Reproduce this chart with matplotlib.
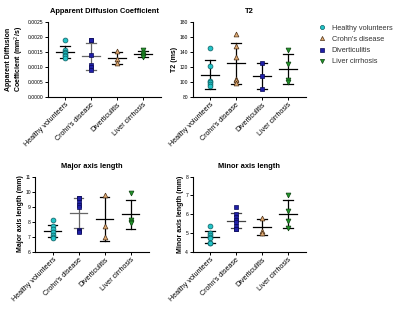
import numpy as np
import matplotlib
matplotlib.use("Agg")
import matplotlib.pyplot as plt
from matplotlib.lines import Line2D

plt.rcParams['font.family'] = ['Liberation Sans', 'DejaVu Sans']

groups = ["Healthy volunteers", "Crohn's disease", "Diverticulitis", "Liver cirrhosis"]

adc_healthy = [0.0019, 0.00155, 0.0015, 0.00145, 0.0014, 0.00135, 0.0013]
adc_crohn = [0.0019, 0.00188, 0.0014, 0.00105, 0.0010, 0.00088]
adc_divert = [0.00152, 0.00125, 0.00113]
adc_liver = [0.00156, 0.00145, 0.00138, 0.00131]

t2_healthy = [145, 121, 101, 99, 97, 94]
t2_crohn = [164, 147, 133, 104, 102, 98]
t2_divert = [124.5, 107, 90]
t2_liver = [142, 124, 102, 100]

major_healthy = [8.1, 7.7, 7.5, 7.3, 7.1, 7.0, 6.9]
major_crohn = [9.6, 9.55, 9.3, 9.1, 8.95, 7.45, 7.35, 7.3]
major_divert = [9.8, 7.7, 7.0]
major_liver = [9.9, 8.1, 8.0, 7.9]

minor_healthy = [5.35, 4.98, 4.88, 4.78, 4.7, 4.44, 4.45]
minor_crohn = [6.35, 6.0, 5.85, 5.7, 5.55, 5.35, 5.22, 5.2]
minor_divert = [5.78, 5.1, 5.0]
minor_liver = [7.0, 6.17, 5.65, 5.25]

# styles
CYAN = dict(marker='o', mfc='#22c4c8', mec='#0c5c60')
BLUE = dict(marker='s', mfc='#1f1fa8', mec='#0a0a55')
TAN = dict(marker='^', mfc='#e2ab72', mec='#4a3018')
GREEN = dict(marker='v', mfc='#22962a', mec='#0c400f')

panels = [
    dict(rect=[0.119, 0.7034, 0.284, 0.230], title="Apparent Diffusion Coefficient",
         ylabel="Apparent Diffusion\nCoefficient (mm$^2$/s)",
         data=[adc_healthy, adc_crohn, adc_divert, adc_liver],
         styles=[CYAN, BLUE, TAN, GREEN], lc=['k', '#666666', 'k', 'k'],
         ylim=(0, 0.0025), yticks=np.arange(0, 0.00251, 0.0005), fmt="{:.4f}"),
    dict(rect=[0.4815, 0.7034, 0.284, 0.230], title="T2", ylabel="T2 (ms)",
         data=[t2_healthy, t2_crohn, t2_divert, t2_liver],
         styles=[CYAN, TAN, BLUE, GREEN], lc=['k', 'k', 'k', 'k'],
         ylim=(80, 180), yticks=np.arange(80, 181, 20), fmt="{:.0f}"),
    dict(rect=[0.0883, 0.2284, 0.284, 0.230], title="Major axis length",
         ylabel="Major axis length (mm)",
         data=[major_healthy, major_crohn, major_divert, major_liver],
         styles=[CYAN, BLUE, TAN, GREEN], lc=['k', '#666666', 'k', 'k'],
         ylim=(6, 11), yticks=np.arange(6, 11.1, 1), fmt="{:.0f}"),
    dict(rect=[0.4815, 0.2284, 0.284, 0.230], title="Minor axis length",
         ylabel="Minor axis length (mm)",
         data=[minor_healthy, minor_crohn, minor_divert, minor_liver],
         styles=[CYAN, BLUE, TAN, GREEN], lc=['k', '#444444', 'k', 'k'],
         ylim=(4, 8), yticks=np.arange(4, 8.1, 1), fmt="{:.0f}"),
]

fig = plt.figure(figsize=(4.0, 3.26), dpi=100)

for p in panels:
    ax = fig.add_axes(p['rect'])
    for i, (vals, st, lc) in enumerate(zip(p['data'], p['styles'], p['lc'])):
        vals = np.asarray(vals, dtype=float)
        m = vals.mean()
        sd = vals.std(ddof=1)
        ax.plot([i] * len(vals), vals, linestyle='none', markersize=3.5,
                markeredgewidth=0.5, zorder=3, **st)
        ax.plot([i - 0.33, i + 0.33], [m, m], color=lc, lw=0.9, zorder=2)
        ax.plot([i, i], [m - sd, m + sd], color=lc, lw=0.9, zorder=2)
        for y in (m - sd, m + sd):
            ax.plot([i - 0.18, i + 0.18], [y, y], color=lc, lw=0.9, zorder=2)
    ax.set_xlim(-0.67, 3.7)
    ax.set_ylim(*p['ylim'])
    ax.set_yticks(p['yticks'])
    ax.set_yticklabels([p['fmt'].format(v) for v in p['yticks']], fontsize=3.6)
    ax.set_xticks(range(len(groups)))
    ax.set_xticklabels(groups, rotation=45, ha='right', rotation_mode='anchor', fontsize=5.1)
    for s in ('top', 'right'):
        ax.spines[s].set_visible(False)
    for s in ('left', 'bottom'):
        ax.spines[s].set_linewidth(0.8)
    ax.tick_params(length=2, width=0.7, pad=1.2)
    ax.set_title(p['title'], fontsize=5.4, fontweight='bold', pad=6)
    ax.set_ylabel(p['ylabel'], fontsize=5, fontweight='bold', labelpad=1,
                  linespacing=1.1)

handles = [
    Line2D([], [], linestyle='none', markersize=3, markeredgewidth=0.5, **CYAN),
    Line2D([], [], linestyle='none', markersize=3, markeredgewidth=0.5, **TAN),
    Line2D([], [], linestyle='none', markersize=3, markeredgewidth=0.5, **BLUE),
    Line2D([], [], linestyle='none', markersize=3, markeredgewidth=0.5, **GREEN),
]
fig.legend(handles, groups, loc='upper left', bbox_to_anchor=(0.78, 0.945),
           frameon=False, fontsize=5.3, handlelength=1.0, handletextpad=0.8,
           labelspacing=0.55, labelcolor='#333333')

fig.savefig("out.png", dpi=100)
